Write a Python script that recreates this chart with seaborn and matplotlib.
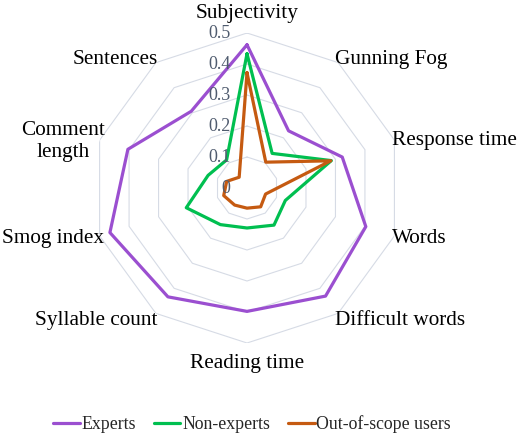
import numpy as np
import pandas as pd
import matplotlib
matplotlib.use('Agg')
import matplotlib.pyplot as plt
import seaborn as sns

# Values (clockwise from the top)
categories = ['Subjectivity', 'Gunning Fog', 'Response time', 'Words', 'Difficult words',
              'Reading time', 'Syllable count', 'Smog index', 'Comment\nlength', 'Sentences']
experts = [0.462, 0.228, 0.323, 0.403, 0.431, 0.398, 0.434, 0.465, 0.404, 0.306]
non_experts = [0.433, 0.138, 0.286, 0.130, 0.148, 0.129, 0.146, 0.206, 0.132, 0.112]
out_of_scope = [0.372, 0.103, 0.284, 0.063, 0.075, 0.065, 0.068, 0.079, 0.069, 0.043]
groups = ['Experts', 'Non-experts', 'Out-of-scope users']
ticks = [0, 0.1, 0.2, 0.3, 0.4, 0.5]
tick_labels = ['0', '0.1', '0.2', '0.3', '0.4', '0.5']
colors = ['#9b4fd0', '#00bf50', '#c55a11']

sns.set_style('white')
plt.rcParams['font.family'] = ['Liberation Serif', 'DejaVu Serif']

n = len(categories)
angles = np.linspace(0, 2 * np.pi, n, endpoint=False)
angles_closed = np.append(angles, 2 * np.pi)

# long-form table, each polygon closed by repeating the first value
rows = []
for g, vals in zip(groups, [experts, non_experts, out_of_scope]):
    for i in range(n + 1):
        rows.append({'theta': angles_closed[i], 'value': vals[i % n], 'group': g})
df = pd.DataFrame(rows)

fig = plt.figure(figsize=(5.18, 4.36), dpi=100)
ax = fig.add_axes([0.1776, 0.2133, 0.5985, 0.711], projection='polar')
ax.set_theta_zero_location('N')
ax.set_theta_direction(-1)

# polygon gridlines instead of circles
for r in ticks[1:]:
    ax.plot(angles_closed, [r] * (n + 1), color='#d6dbe5', lw=0.8, zorder=0)

sns.lineplot(data=df, x='theta', y='value', hue='group', palette=colors,
             sort=False, estimator=None, linewidth=2.3, ax=ax)

ax.set_ylim(0, 0.5)
ax.grid(False)
ax.spines['polar'].set_visible(False)
ax.set_xticks([])
ax.set_yticks([])
ax.set_xlabel('')
ax.set_ylabel('')

# category labels: (ha, offset x, offset y) in points
label_pos = [('center', 0, 13.7), ('left', -2, 2), ('left', -2, 0), ('left', -2, -2),
             ('left', -2, -5), ('center', 0, -14.4), ('right', 1.5, -5), ('right', 3, -2),
             ('right', 4, -1), ('right', 1.5, 2)]
for ang, lab, (ha, dx, dy) in zip(angles, categories, label_pos):
    ax.annotate(lab, xy=(ang, 0.5), xytext=(dx, dy), textcoords='offset points',
                ha=ha, va='center', multialignment='center', fontsize=15.3,
                color='black', annotation_clip=False)

# radial tick labels
for t, tl in zip(ticks, tick_labels):
    ax.annotate(tl, xy=(0, t), xytext=(-12, 0), textcoords='offset points',
                ha='right', va='center', fontsize=13, color='#4f5b6e',
                annotation_clip=False)

handles, labels = ax.get_legend_handles_labels()
if ax.get_legend() is not None:
    ax.get_legend().remove()
for h in handles:
    h.set_linewidth(2.3)
fig.legend(handles, labels, loc='center', bbox_to_anchor=(0.4865, 0.027), ncol=3,
           frameon=False, handlelength=1.5, handletextpad=0.1, columnspacing=1.0,
           fontsize=12.8)

fig.savefig('out.png', dpi=100)
